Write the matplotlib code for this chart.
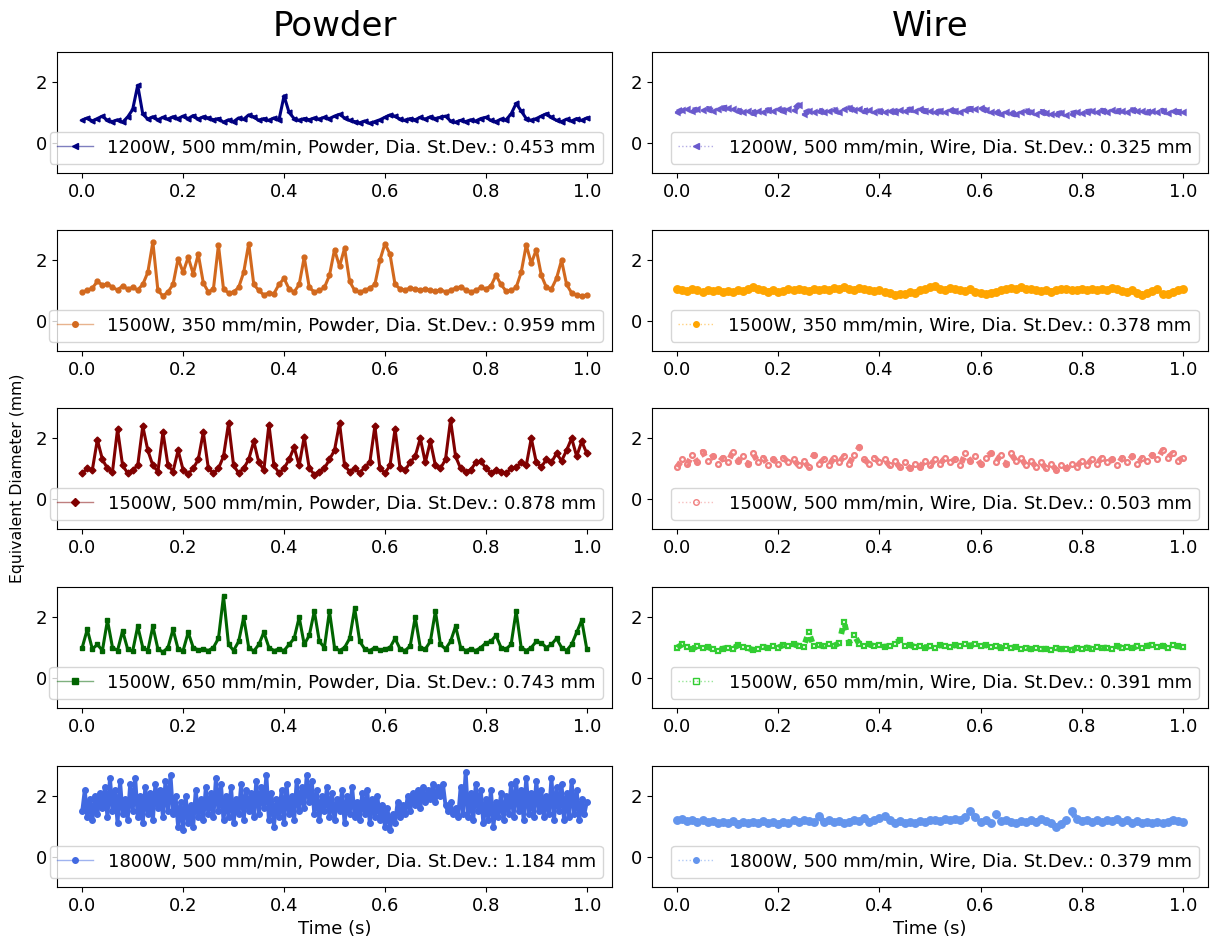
"""
Equivalent melt-pool diameter over time: powder vs wire feedstock
"""

import numpy as np
import matplotlib.pyplot as plt
from matplotlib.colors import to_rgba

# ─── data ───────────────────────────────────────────────────────────────────
powder_labels = [
    "1200W, 500 mm/min, Powder, Dia. St.Dev.: 0.453 mm",
    "1500W, 350 mm/min, Powder, Dia. St.Dev.: 0.959 mm",
    "1500W, 500 mm/min, Powder, Dia. St.Dev.: 0.878 mm",
    "1500W, 650 mm/min, Powder, Dia. St.Dev.: 0.743 mm",
    "1800W, 500 mm/min, Powder, Dia. St.Dev.: 1.184 mm",
]
wire_labels = [
    "1200W, 500 mm/min, Wire, Dia. St.Dev.: 0.325 mm",
    "1500W, 350 mm/min, Wire, Dia. St.Dev.: 0.378 mm",
    "1500W, 500 mm/min, Wire, Dia. St.Dev.: 0.503 mm",
    "1500W, 650 mm/min, Wire, Dia. St.Dev.: 0.391 mm",
    "1800W, 500 mm/min, Wire, Dia. St.Dev.: 0.379 mm",
]

powder_1200_500 = [
    0.75, 0.82, 0.72, 0.80, 0.88, 0.74, 0.70, 0.76, 0.68, 0.85,
    1.10, 1.90, 0.95, 0.78, 0.86, 0.76, 0.84, 0.78, 0.86, 0.80,
    0.88, 0.80, 0.90, 0.78, 0.86, 0.82, 0.76, 0.80, 0.68, 0.76,
    0.70, 0.82, 0.78, 0.92, 0.86, 0.74, 0.80, 0.74, 0.82, 0.76,
    1.55, 1.00, 0.80, 0.74, 0.80, 0.76, 0.82, 0.78, 0.84, 0.80,
    0.88, 0.94, 0.82, 0.74, 0.70, 0.66, 0.72, 0.64, 0.70, 0.76,
    0.84, 0.92, 0.88, 0.78, 0.74, 0.80, 0.76, 0.84, 0.78, 0.86,
    0.80, 0.84, 0.88, 0.72, 0.68, 0.74, 0.70, 0.76, 0.72, 0.80,
    0.84, 0.74, 0.70, 0.78, 0.76, 0.95, 1.30, 1.05, 0.80, 0.74,
    0.80, 0.88, 0.96, 0.84, 0.74, 0.70, 0.78, 0.72, 0.80, 0.74,
    0.82,
]
powder_1500_350 = [
    0.95, 1.00, 1.08, 1.30, 1.18, 1.22, 1.10, 1.02, 1.15, 1.05,
    1.10, 1.02, 1.20, 1.60, 2.60, 1.00, 0.82, 0.95, 1.20, 2.05,
    1.60, 2.10, 1.55, 2.20, 1.25, 0.95, 1.05, 2.50, 1.05, 0.92,
    0.95, 1.10, 1.60, 2.55, 1.20, 1.00, 0.85, 0.92, 0.90, 1.20,
    1.40, 1.05, 0.95, 1.20, 2.10, 1.10, 0.95, 1.00, 1.10, 1.50,
    2.35, 1.80, 2.40, 1.30, 1.00, 0.95, 1.00, 1.08, 1.20, 2.00,
    2.55, 2.20, 1.20, 1.05, 1.02, 1.08, 1.05, 1.02, 1.05, 1.00,
    0.98, 1.02, 0.96, 1.00, 1.08, 1.12, 1.02, 0.95, 1.00, 1.10,
    1.05, 1.15, 1.50, 1.20, 0.98, 1.00, 1.10, 1.60, 2.50, 1.90,
    2.35, 1.50, 1.10, 1.05, 1.40, 2.00, 1.20, 0.92, 0.85, 0.82,
    0.85,
]
powder_1500_500 = [
    0.85, 1.00, 0.95, 1.95, 1.30, 1.00, 0.90, 2.30, 1.10, 0.85,
    0.95, 1.10, 2.40, 1.60, 1.10, 0.90, 2.20, 1.10, 0.90, 1.60,
    0.95, 0.82, 1.00, 1.30, 2.20, 1.00, 0.85, 1.00, 1.40, 2.50,
    1.10, 0.85, 1.00, 1.30, 1.90, 1.20, 0.95, 2.45, 1.10, 0.85,
    1.00, 1.30, 1.70, 1.10, 2.05, 1.00, 0.80, 0.90, 1.00, 1.30,
    1.60, 2.50, 1.10, 0.90, 1.00, 0.85, 1.05, 1.20, 2.40, 1.00,
    0.85, 1.10, 2.30, 1.00, 0.95, 1.20, 1.40, 2.00, 1.20, 1.90,
    1.10, 1.00, 1.30, 2.60, 1.40, 1.00, 0.90, 0.95, 1.20, 1.25,
    1.00, 0.85, 0.95, 0.90, 0.85, 1.00, 1.05, 1.20, 1.10, 2.00,
    1.20, 1.05, 1.30, 1.20, 1.50, 1.25, 1.60, 2.00, 1.40, 1.90,
    1.50,
]
powder_1500_650 = [
    1.00, 1.60, 0.95, 1.10, 0.90, 1.90, 1.00, 0.90, 1.55, 0.95,
    0.88, 1.70, 1.00, 0.90, 1.70, 0.95, 0.85, 1.00, 1.60, 0.95,
    0.90, 1.50, 1.00, 0.92, 0.95, 0.90, 1.00, 1.30, 2.70, 1.10,
    0.90, 1.20, 2.00, 1.00, 0.88, 1.10, 1.50, 1.00, 0.90, 0.95,
    0.90, 1.10, 1.30, 2.00, 1.10, 1.40, 2.20, 1.20, 1.00, 2.20,
    1.00, 0.90, 1.00, 1.30, 2.30, 1.20, 0.95, 0.90, 1.00, 0.92,
    0.95, 1.00, 1.30, 0.95, 0.90, 1.05, 2.00, 1.00, 0.95, 1.20,
    2.20, 1.10, 0.95, 1.20, 1.70, 1.00, 0.90, 0.95, 0.90, 1.00,
    1.15, 1.20, 1.40, 1.00, 0.95, 1.10, 2.20, 1.00, 0.90, 1.00,
    1.20, 1.15, 1.00, 1.10, 1.30, 1.00, 0.90, 1.10, 1.50, 1.90,
    0.95,
]
powder_1800_500 = [
    1.5, 2.2, 1.3, 1.9, 1.2, 2.0, 1.4, 2.1, 1.6, 2.3,
    1.3, 2.6, 1.5, 2.2, 1.1, 2.5, 1.4, 1.9, 1.2, 2.4,
    1.5, 2.6, 1.3, 2.0, 1.1, 2.3, 1.4, 2.1, 1.2, 2.4,
    1.6, 2.2, 1.3, 2.5, 1.5, 2.7, 1.4, 2.0, 1.0, 1.8,
    0.9, 2.0, 1.1, 1.7, 1.0, 2.2, 1.3, 1.9, 1.2, 2.3,
    1.4, 2.1, 1.3, 2.6, 1.5, 2.4, 1.2, 2.0, 1.3, 2.3,
    1.1, 1.9, 1.4, 2.4, 1.2, 2.2, 1.5, 2.1, 1.3, 2.5,
    1.4, 2.3, 1.6, 2.7, 1.2, 2.1, 1.0, 1.9, 1.3, 2.2,
    1.1, 2.4, 1.4, 2.0, 1.2, 2.5, 1.5, 2.3, 1.6, 2.7,
    1.8, 2.5, 1.4, 2.2, 1.2, 2.0, 1.5, 2.3, 1.3, 2.1,
    1.2, 1.9, 1.5, 2.2, 1.1, 2.0, 1.4, 2.3, 1.3, 1.8,
    1.2, 2.1, 1.4, 2.2, 1.1, 1.9, 1.3, 2.0, 1.2, 1.7,
    1.0, 1.6, 0.9, 1.4, 1.1, 1.8, 1.3, 1.7, 1.4, 2.0,
    1.5, 2.1, 1.7, 2.2, 1.6, 2.3, 1.8, 2.2, 1.9, 2.4,
    1.8, 2.3, 2.0, 2.4, 1.7, 1.5, 1.8, 1.4, 1.6, 1.3,
    2.3, 1.4, 2.8, 1.3, 2.1, 1.2, 2.4, 1.5, 2.2, 1.1,
    1.9, 1.2, 2.2, 1.0, 1.8, 1.3, 2.1, 1.2, 2.0, 1.4,
    2.4, 1.3, 2.5, 1.5, 2.2, 1.2, 2.6, 1.4, 2.1, 1.3,
    2.5, 1.5, 2.2, 1.3, 2.0, 1.4, 2.6, 1.2, 2.3, 1.5,
    2.4, 1.2, 2.1, 1.3, 2.5, 1.4, 2.2, 1.2, 1.9, 1.4,
    1.8,
]

wire_1200_500 = [
    1.00, 1.08, 1.12, 1.06, 1.10, 1.08, 1.12, 1.06, 1.10, 1.14,
    1.16, 1.12, 1.06, 1.00, 1.04, 0.98, 1.06, 1.02, 1.08, 1.04,
    1.10, 1.06, 1.12, 1.08, 1.24, 0.96, 1.04, 1.00, 1.06, 1.02,
    1.04, 1.08, 1.02, 1.10, 1.14, 1.08, 1.12, 1.04, 1.08, 1.02,
    1.04, 1.00, 1.06, 1.02, 1.08, 1.04, 1.10, 1.06, 1.12, 1.04,
    1.06, 1.00, 1.04, 1.02, 1.08, 1.04, 1.02, 1.08, 1.12, 1.10,
    1.16, 1.08, 1.00, 1.02, 0.96, 1.00, 0.98, 0.94, 1.00, 1.04,
    1.00, 0.96, 1.02, 0.98, 0.96, 0.94, 0.98, 0.92, 0.96, 1.00,
    0.98, 1.02, 1.04, 1.00, 1.06, 1.02, 1.08, 1.04, 1.06, 1.02,
    1.08, 1.04, 1.06, 1.00, 1.04, 1.02, 1.06, 0.98, 1.04, 1.02,
    1.00,
]
wire_1500_350 = [
    1.05, 1.02, 0.98, 1.04, 1.00, 0.96, 1.02, 0.98, 1.00, 0.94,
    0.98, 0.96, 1.00, 0.98, 1.06, 1.10, 1.04, 1.00, 0.96, 1.02,
    0.94, 0.98, 1.04, 1.00, 1.06, 1.02, 0.98, 1.04, 1.02, 1.06,
    1.00, 1.08, 1.04, 1.10, 1.06, 1.02, 1.08, 1.04, 1.00, 0.98,
    1.02, 0.96, 0.92, 0.86, 0.90, 0.88, 0.94, 0.92, 1.00, 1.06,
    1.10, 1.14, 1.06, 1.02, 1.08, 1.04, 1.00, 0.98, 1.04, 0.96,
    0.92, 0.88, 0.92, 0.96, 1.00, 1.04, 1.08, 1.04, 1.10, 1.06,
    1.04, 1.00, 0.98, 1.02, 0.96, 1.00, 1.04, 1.06, 1.02, 1.00,
    1.06, 1.02, 1.04, 1.00, 1.06, 1.02, 1.08, 1.04, 0.98, 0.94,
    1.00, 0.92, 0.86, 0.92, 0.98, 1.04, 0.90, 0.88, 0.96, 1.02,
    1.06,
]
wire_1500_500 = [
    1.05, 1.30, 1.15, 1.45, 1.20, 1.55, 1.25, 1.40, 1.15, 1.35,
    1.20, 1.55, 1.25, 1.40, 1.15, 1.50, 1.20, 1.35, 1.10, 1.30,
    1.15, 1.35, 1.20, 1.30, 1.10, 1.25, 1.05, 1.45, 1.15, 1.30,
    1.10, 1.35, 1.20, 1.40, 1.15, 1.45, 1.70, 1.30, 1.15, 1.35,
    1.20, 1.30, 1.10, 1.25, 1.05, 1.20, 1.00, 1.15, 1.05, 1.25,
    1.10, 1.30, 1.15, 1.35, 1.20, 1.30, 1.10, 1.50, 1.25, 1.40,
    1.15, 1.35, 1.50, 1.20, 1.45, 1.15, 1.50, 1.25, 1.35, 1.10,
    1.25, 1.05, 1.20, 1.00, 1.15, 0.95, 1.10, 1.00, 1.15, 1.05,
    1.25, 1.10, 1.30, 1.15, 1.35, 1.20, 1.30, 1.10, 1.35, 1.20,
    1.40, 1.15, 1.35, 1.25, 1.45, 1.30, 1.60, 1.35, 1.50, 1.25,
    1.35,
]
wire_1500_650 = [
    1.00, 1.10, 1.02, 0.96, 1.04, 0.98, 1.02, 0.94, 0.90, 0.96,
    1.00, 0.96, 1.08, 1.02, 0.98, 0.92, 0.96, 1.02, 0.98, 1.04,
    1.00, 1.08, 1.04, 1.10, 1.06, 1.02, 1.50, 1.04, 1.08, 1.04,
    1.10, 1.06, 1.14, 1.85, 1.16, 1.40, 1.12, 1.06, 1.10, 1.04,
    1.08, 1.02, 1.06, 1.12, 1.25, 1.04, 1.08, 1.02, 1.06, 1.00,
    1.04, 1.00, 1.08, 1.04, 1.02, 1.08, 1.04, 1.10, 1.06, 1.12,
    1.04, 1.08, 1.02, 1.06, 1.00, 1.04, 0.98, 1.02, 0.96, 1.00,
    0.94, 0.98, 0.94, 0.96, 0.92, 0.98, 0.94, 0.96, 0.92, 0.98,
    0.94, 1.00, 0.96, 1.02, 0.98, 1.00, 0.96, 1.04, 1.00, 1.02,
    0.98, 1.04, 1.00, 1.06, 1.08, 1.02, 1.06, 1.00, 1.08, 1.04,
    1.02,
]
wire_1800_500 = [
    1.20, 1.24, 1.18, 1.22, 1.16, 1.20, 1.14, 1.18, 1.12, 1.16,
    1.10, 1.18, 1.08, 1.14, 1.10, 1.16, 1.12, 1.18, 1.10, 1.14,
    1.08, 1.16, 1.12, 1.20, 1.16, 1.22, 1.18, 1.14, 1.34, 1.16,
    1.20, 1.14, 1.18, 1.12, 1.16, 1.22, 1.18, 1.28, 1.14, 1.20,
    1.28, 1.36, 1.20, 1.12, 1.18, 1.10, 1.16, 1.12, 1.18, 1.14,
    1.20, 1.22, 1.18, 1.24, 1.20, 1.26, 1.22, 1.32, 1.50, 1.30,
    1.14, 1.20, 1.10, 1.40, 1.18, 1.22, 1.16, 1.12, 1.18, 1.14,
    1.20, 1.16, 1.24, 1.18, 1.12, 0.98, 1.08, 1.20, 1.50, 1.24,
    1.18, 1.22, 1.16, 1.20, 1.14, 1.22, 1.18, 1.24, 1.16, 1.22,
    1.12, 1.18, 1.10, 1.16, 1.10, 1.14, 1.10, 1.16, 1.22, 1.18,
    1.16,
]

powder_series = [powder_1200_500, powder_1500_350, powder_1500_500,
                 powder_1500_650, powder_1800_500]
wire_series = [wire_1200_500, wire_1500_350, wire_1500_500,
               wire_1500_650, wire_1800_500]

# ─── styles ─────────────────────────────────────────────────────────────────
powder_colors = ["navy", "chocolate", "maroon", "darkgreen", "royalblue"]
powder_markers = ["<", "o", "D", "s", "o"]
wire_colors = ["slateblue", "orange", "lightcoral", "limegreen", "cornflowerblue"]
wire_markers = ["<", "o", "o", "s", "o"]
wire_hollow = [False, False, True, True, False]
wire_ms = [3.0, 4.8, 3.5, 3.5, 4.8]

W, H = 1214, 946
fig = plt.figure(figsize=(W / 100, H / 100), dpi=100)

row_tops = [52, 230, 408, 587, 766]
ax_h = 121
col_lr = [(57, 612), (652, 1208)]

FS = 13


def make_ax(col, row):
    l, r = col_lr[col]
    top = row_tops[row]
    ax = fig.add_axes([l / W, 1 - (top + ax_h) / H, (r - l) / W, ax_h / H])
    ax.set_ylim(-1, 3)
    ax.set_yticks([0, 2])
    ax.set_xticks([0, 0.2, 0.4, 0.6, 0.8, 1.0])
    ax.tick_params(labelsize=FS)
    return ax


def slim_legend(ax, color, ls):
    # legend handle: thin, faded line with a small marker
    leg = ax.legend(loc="lower right", fontsize=FS)
    for h in leg.get_lines():
        hollow = h.get_markerfacecolor() == "none"
        h.set_linewidth(1.0)
        h.set_markersize(4)
        h.set_markeredgewidth(1.0)
        h.set_linestyle(ls)
        h.set_color(to_rgba(color, 0.5))
        h.set_markeredgecolor(color)
        h.set_markerfacecolor("none" if hollow else color)
    return leg


for i in range(5):
    # powder column
    ax = make_ax(0, i)
    y = np.array(powder_series[i])
    t = np.linspace(0, 1, len(y))
    c = powder_colors[i]
    ax.plot(t, y, color=c, marker=powder_markers[i],
            ms=4 if i == 4 else 3.5, lw=2.8 if i == 4 else 2.2,
            linestyle="-", label=powder_labels[i])
    slim_legend(ax, c, "-")

    # wire column
    ax = make_ax(1, i)
    y = np.array(wire_series[i])
    t = np.linspace(0, 1, len(y))
    c = wire_colors[i]
    mfc = "none" if wire_hollow[i] else c
    ax.plot(t, y, color=c, marker=wire_markers[i],
            mfc=mfc, mec=c, mew=1.6, ms=wire_ms[i], lw=4.2, linestyle=":",
            label=wire_labels[i])
    slim_legend(ax, c, ":")

    if i == 4:
        for a in fig.axes[-2:]:
            a.set_xlabel("Time (s)", fontsize=FS)

fig.text((57 + 612) / 2 / W, 1 - 27 / H, "Powder", fontsize=24.5,
         ha="center", va="center")
fig.text((652 + 1208) / 2 / W, 1 - 27 / H, "Wire", fontsize=24.5,
         ha="center", va="center")
fig.text(18 / W, 1 - 478 / H, "Equivalent Diameter (mm)", fontsize=11.3,
         rotation=90, ha="center", va="center")

plt.savefig("out.png", dpi=100)
plt.close()
